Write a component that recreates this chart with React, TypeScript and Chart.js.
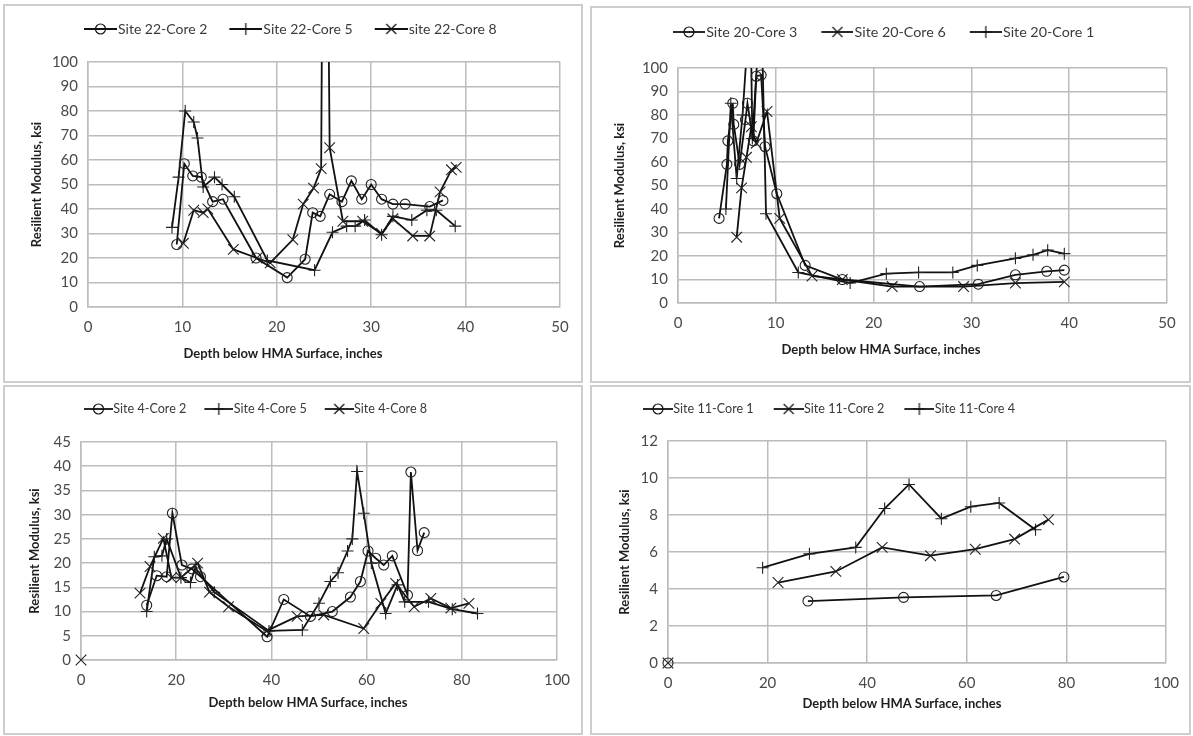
import React, { useEffect, useRef } from "react";
import { Chart, registerables } from "chart.js";
Chart.register(...registerables);

// ---------- Site 22 ----------
const s22c2X = [9.4, 10.2, 11.1, 12.0, 13.2, 14.3, 17.8, 21.1, 23.0, 23.8, 24.6, 25.6, 26.9, 27.9, 29.0, 30.0, 31.1, 32.3, 33.6, 36.2, 37.6];
const s22c2Y = [25.5, 58.5, 53.5, 53, 43, 44, 20, 12, 19.5, 38.5, 37, 46, 43, 51.5, 44, 50, 44, 42, 42, 41, 43.5];
const s22c5X = [8.9, 9.6, 10.3, 11.2, 11.6, 12.2, 13.4, 14.2, 15.5, 19.0, 24.0, 25.9, 27.4, 28.3, 29.3, 31.1, 32.3, 34.3, 35.9, 36.9, 38.9];
const s22c5Y = [32.5, 53, 80, 75.5, 69, 49, 53, 50, 45, 19, 15, 30.5, 33, 33, 35.5, 29.5, 37, 35.5, 39.5, 39.5, 33];
const s22c8X = [10.1, 11.2, 12.2, 12.7, 15.4, 17.9, 19.3, 21.7, 22.8, 23.9, 24.7, 25.05, 25.6, 27.0, 29.1, 31.1, 32.3, 34.4, 36.2, 37.3, 38.5, 39.0];
const s22c8Y = [26, 39.5, 38.5, 40, 23.5, 20, 18, 27.5, 42, 48.5, 56.5, 300, 65, 35, 35, 30, 36, 29, 29, 47, 56, 57];

// ---------- Site 20 ----------
const s20c3X = [4.2, 5.0, 5.1, 5.6, 5.7, 6.3, 6.9, 7.1, 7.7, 8.0, 8.5, 8.9, 10.1, 13.0, 16.8, 24.7, 30.7, 34.5, 37.7, 39.5];
const s20c3Y = [36, 59, 69, 85, 76, 59, 78, 85, 69, 96.5, 97, 66.5, 46.5, 16, 10, 7, 8, 12, 13.5, 14];
const s20c6X = [6.0, 6.5, 7.0, 7.5, 8.0, 9.1, 10.4, 13.7, 16.8, 21.9, 29.2, 34.5, 39.5];
const s20c6Y = [28, 49, 62, 75, 68, 81.5, 36, 11.5, 10, 7, 7, 8.5, 9];
const s20c1X = [4.9, 5.4, 6.0, 6.6, 7.4, 7.6, 8.5, 9.0, 12.3, 17.6, 21.3, 24.6, 28.1, 30.6, 34.5, 36.3, 37.8, 39.5];
const s20c1Y = [40, 85, 53, 80, 130, 70, 130, 38, 13, 8.5, 12.5, 13, 13, 16, 19, 20.5, 22.5, 21];

// ---------- Site 4 ----------
const s4c2X = [13.8, 15.9, 18.0, 19.2, 21.2, 23.3, 25.1, 39.1, 42.6, 48.2, 52.8, 56.6, 58.7, 60.3, 61.9, 63.6, 65.4, 68.6, 69.3, 70.7, 72.1];
const s4c2Y = [11.3, 17.4, 17.2, 30.3, 19.6, 18.8, 17.2, 4.8, 12.5, 9, 10, 13, 16.2, 22.5, 21, 19.6, 21.5, 13.4, 38.8, 22.6, 26.3];
const s4c5X = [13.8, 15.4, 17.0, 18.0, 21.0, 23.0, 24.0, 28.0, 39.5, 46.5, 50.0, 52.4, 54.0, 56.0, 57.0, 58.0, 59.4, 61.0, 64.0, 66.5, 68.0, 73.0, 78.0, 83.3];
const s4c5Y = [10, 21.3, 21.5, 25, 17, 16, 19, 14, 6, 6.2, 11.7, 16.2, 18, 22.5, 25, 38.9, 30.3, 20, 9.6, 15.5, 12, 12, 10.5, 9.6];
const s4c8X = [0, 0, 12.4, 14.5, 17.3, 19.0, 21.0, 24.5, 27.0, 31.0, 39.0, 45.4, 51.0, 59.4, 63.0, 66.1, 70.0, 73.5, 77.7, 81.5];
const s4c8Y = [0, null, 13.8, 19.3, 25.1, 17, 17, 20, 14, 11, 6, 9, 9.3, 6.5, 11.7, 15.8, 11, 12.7, 10.7, 11.7];

// ---------- Site 11 ----------
const s11c1X = [0, 0, 28.1, 47.3, 65.9, 79.5];
const s11c1Y = [0, null, 3.35, 3.55, 3.65, 4.65];
const s11c2X = [0, 0, 22.1, 33.7, 43.0, 52.7, 61.7, 69.6, 76.4];
const s11c2Y = [0, null, 4.35, 4.95, 6.25, 5.8, 6.15, 6.7, 7.75];
const s11c4X = [19.0, 28.4, 37.7, 43.5, 48.4, 54.9, 60.8, 66.5, 73.8];
const s11c4Y = [5.15, 5.9, 6.25, 8.35, 9.65, 7.8, 8.45, 8.65, 7.2];

const yTitleText = "Resilient Modulus, ksi";
const xTitleText = "Depth below HMA Surface, inches";

const FONT = "Lato, 'Open Sans', 'DejaVu Sans', sans-serif";
const GRID = "#bcbcbc";
const TICK_COLOR = "#4a4a4a";

type Style = "circle" | "cross" | "crossRot";
type Series = { label: string; xs: number[]; ys: (number | null)[]; style: Style };

type PanelCfg = {
  left: number; top: number; width: number; height: number;
  series: Series[];
  xMax: number; xStep: number; yMax: number; yStep: number;
  plotLeft: number; plotRight: number; plotTop: number; plotBottom: number;
  legendY: number; legendStart: number; legendFont: number; legendLine: number; legendGap: number;
  xTitleX: number; xTitleY: number; yTitleX: number;
  clipTop: boolean;
};

const LEG_PAD = 10;

function makeLegendImg(style: Style, lineLen: number, gap: number): { img: HTMLCanvasElement; boxW: number } {
  const boxW = gap - LEG_PAD + lineLen - 6;
  const c = document.createElement("canvas");
  c.width = boxW + 12;
  c.height = 16;
  const ctx = c.getContext("2d")!;
  const x0 = c.width - lineLen;
  ctx.strokeStyle = "#111";
  ctx.lineWidth = 1.8;
  ctx.beginPath();
  ctx.moveTo(x0, 8);
  ctx.lineTo(c.width, 8);
  ctx.stroke();
  const cx = x0 + lineLen / 2, cy = 8;
  ctx.lineWidth = 1.2;
  ctx.beginPath();
  if (style === "circle") {
    ctx.arc(cx, cy, 5, 0, Math.PI * 2);
  } else if (style === "cross") {
    ctx.moveTo(cx, cy - 6); ctx.lineTo(cx, cy + 6);
    ctx.moveTo(cx - 6, cy); ctx.lineTo(cx + 6, cy);
  } else {
    ctx.moveTo(cx - 5, cy - 5); ctx.lineTo(cx + 5, cy + 5);
    ctx.moveTo(cx + 5, cy - 5); ctx.lineTo(cx - 5, cy + 5);
  }
  ctx.stroke();
  return { img: c, boxW };
}

// Draws the x-axis title at a fixed place and shifts the legend row to its place.
const panelPlugin = {
  id: "panelExtras",
  afterLayout(chart: any, _args: any, opts: any) {
    const lg = chart.legend;
    if (lg) {
      const w = lg.right - lg.left;
      lg.left = opts.legendLeft;
      lg.right = opts.legendLeft + w;
    }
  },
  afterDraw(chart: any, _args: any, opts: any) {
    const ctx = chart.ctx;
    ctx.save();
    ctx.font = `bold 13px ${FONT}`;
    ctx.fillStyle = "#1e1e1e";
    ctx.textAlign = "center";
    ctx.textBaseline = "middle";
    ctx.fillText(opts.text, opts.x, opts.y);
    ctx.restore();
  },
};

function Panel({ cfg }: { cfg: PanelCfg }) {
  const ref = useRef<HTMLCanvasElement>(null);
  useEffect(() => {
    if (!ref.current) return;
    const lf = cfg.legendFont;
    const legendTop = cfg.legendY - LEG_PAD - lf / 2;
    const spacer = cfg.plotTop - legendTop - (LEG_PAD * 2 + lf);
    const legs = cfg.series.map((s) => makeLegendImg(s.style, cfg.legendLine, cfg.legendGap));
    const chart = new Chart(ref.current, {
      type: "line",
      data: {
        datasets: cfg.series.map((s) => ({
          label: s.label,
          data: s.xs.map((x, i) => ({ x, y: s.ys[i] })),
          borderColor: "#111",
          borderWidth: 1.8,
          pointStyle: s.style,
          pointRadius: s.style === "circle" ? 5 : s.style === "cross" ? 6 : 7.5,
          pointBorderColor: "#222",
          pointBorderWidth: 1.1,
          pointBackgroundColor: "rgba(0,0,0,0)",
          tension: 0,
          spanGaps: false,
          clip: cfg.clipTop ? { left: 10, right: 10, bottom: 10, top: 0 } : 10,
        })) as any,
      },
      options: {
        animation: false,
        responsive: false,
        maintainAspectRatio: false,
        events: [],
        layout: { padding: { left: 0, top: legendTop, right: cfg.width - cfg.plotRight, bottom: 0 } },
        plugins: {
          legend: {
            position: "top",
            align: "start",
            labels: {
              usePointStyle: true,
              pointStyleWidth: legs[0].boxW,
              padding: LEG_PAD,
              color: "#3a3a3a",
              font: { family: FONT, size: lf },
              generateLabels: (chart: any) =>
                (Chart.defaults.plugins.legend.labels as any)
                  .generateLabels(chart)
                  .map((l: any, i: number) => ({ ...l, pointStyle: legs[i].img })),
            },
          },
          subtitle: { display: true, text: [] as any, position: "top", weight: 500, padding: { top: spacer, bottom: 0 } } as any,
          tooltip: { enabled: false },
          panelExtras: {
            text: xTitleText,
            x: cfg.xTitleX,
            y: cfg.xTitleY,
            legendLeft: cfg.legendStart - cfg.legendGap,
          },
        } as any,
        scales: {
          x: {
            type: "linear",
            min: 0,
            max: cfg.xMax,
            ticks: { stepSize: cfg.xStep, padding: 11, color: TICK_COLOR, font: { family: FONT, size: 15 } },
            grid: { color: GRID, lineWidth: 1.5, drawTicks: false },
            border: { color: GRID, width: 1.5 },
            afterFit: (s: any) => {
              s.height = cfg.height - cfg.plotBottom;
              s.paddingLeft = 0;
              s.paddingRight = 0;
            },
          },
          y: {
            type: "linear",
            min: 0,
            max: cfg.yMax,
            ticks: { stepSize: cfg.yStep, padding: 10, color: TICK_COLOR, font: { family: FONT, size: 15 } },
            grid: { color: GRID, lineWidth: 1.5, drawTicks: false },
            border: { color: GRID, width: 1.5 },
            title: {
              display: true,
              text: yTitleText,
              color: "#1e1e1e",
              font: { family: FONT, size: 13, weight: "bold" },
              padding: { top: cfg.yTitleX - 7.8, bottom: 0 },
            },
            afterFit: (s: any) => {
              s.width = cfg.plotLeft;
              s.paddingTop = 0;
              s.paddingBottom = 0;
            },
          },
        },
      },
      plugins: [panelPlugin as any],
    });
    return () => chart.destroy();
  }, [cfg]);
  return (
    <canvas
      ref={ref}
      width={cfg.width}
      height={cfg.height}
      style={{ position: "absolute", left: cfg.left, top: cfg.top, width: cfg.width, height: cfg.height }}
    />
  );
}

const panels: PanelCfg[] = [
  {
    left: 3, top: 4, width: 580, height: 379,
    series: [
      { label: "Site 22-Core 2", xs: s22c2X, ys: s22c2Y, style: "circle" },
      { label: "Site 22-Core 5", xs: s22c5X, ys: s22c5Y, style: "cross" },
      { label: "site 22-Core 8", xs: s22c8X, ys: s22c8Y, style: "crossRot" },
    ],
    xMax: 50, xStep: 10, yMax: 100, yStep: 10,
    plotLeft: 85, plotRight: 557, plotTop: 58, plotBottom: 303,
    legendY: 25, legendStart: 81, legendFont: 14, legendLine: 33, legendGap: 22,
    xTitleX: 280, xTitleY: 350, yTitleX: 34, clipTop: true,
  },
  {
    left: 590, top: 6, width: 601, height: 377,
    series: [
      { label: "Site 20-Core 3", xs: s20c3X, ys: s20c3Y, style: "circle" },
      { label: "Site 20-Core 6", xs: s20c6X, ys: s20c6Y, style: "crossRot" },
      { label: "Site 20-Core 1", xs: s20c1X, ys: s20c1Y, style: "cross" },
    ],
    xMax: 50, xStep: 10, yMax: 100, yStep: 10,
    plotLeft: 88, plotRight: 577, plotTop: 62, plotBottom: 297,
    legendY: 26, legendStart: 83, legendFont: 14.3, legendLine: 32, legendGap: 24,
    xTitleX: 291, xTitleY: 344, yTitleX: 30, clipTop: true,
  },
  {
    left: 3, top: 385, width: 580, height: 350,
    series: [
      { label: "Site 4-Core 2", xs: s4c2X, ys: s4c2Y, style: "circle" },
      { label: "Site 4-Core 5", xs: s4c5X, ys: s4c5Y, style: "cross" },
      { label: "Site 4-Core 8", xs: s4c8X, ys: s4c8Y, style: "crossRot" },
    ],
    xMax: 100, xStep: 20, yMax: 45, yStep: 5,
    plotLeft: 78, plotRight: 554, plotTop: 57, plotBottom: 275,
    legendY: 24, legendStart: 81, legendFont: 12.6, legendLine: 29, legendGap: 18,
    xTitleX: 305, xTitleY: 318, yTitleX: 32, clipTop: false,
  },
  {
    left: 590, top: 385, width: 601, height: 350,
    series: [
      { label: "Site 11-Core 1", xs: s11c1X, ys: s11c1Y, style: "circle" },
      { label: "Site 11-Core 2", xs: s11c2X, ys: s11c2Y, style: "crossRot" },
      { label: "Site 11-Core 4", xs: s11c4X, ys: s11c4Y, style: "cross" },
    ],
    xMax: 100, xStep: 20, yMax: 12, yStep: 2,
    plotLeft: 78, plotRight: 576, plotTop: 56, plotBottom: 278,
    legendY: 24, legendStart: 53, legendFont: 12.6, legendLine: 30, legendGap: 20,
    xTitleX: 312, xTitleY: 319, yTitleX: 35, clipTop: false,
  },
];

const borders = [
  { left: 3, top: 4, width: 580, height: 379 },
  { left: 590, top: 6, width: 601, height: 377 },
  { left: 3, top: 385, width: 580, height: 350 },
  { left: 590, top: 385, width: 601, height: 350 },
];

export default function App() {
  return (
    <div style={{ position: "absolute", left: 0, top: 0, width: 1193, height: 736, background: "#fff", overflow: "hidden" }}>
      {panels.map((p, i) => (
        <Panel key={i} cfg={p} />
      ))}
      {borders.map((b, i) => (
        <div
          key={"b" + i}
          style={{
            position: "absolute",
            left: b.left,
            top: b.top,
            width: b.width,
            height: b.height,
            boxSizing: "border-box",
            border: "2px solid #cdcdcd",
            pointerEvents: "none",
          }}
        />
      ))}
    </div>
  );
}
